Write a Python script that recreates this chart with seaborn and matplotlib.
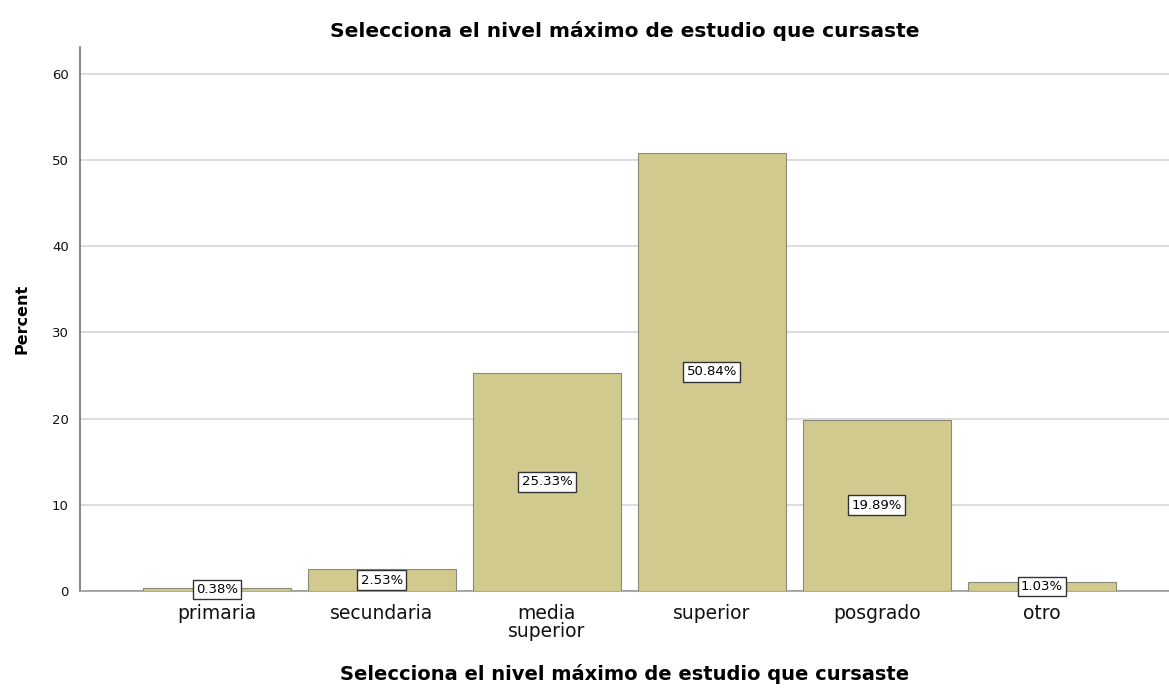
import pandas as pd
import seaborn as sns
import matplotlib.pyplot as plt

# Data
categories = ["primaria", "secundaria", "media\nsuperior", "superior", "posgrado", "otro"]
percents = [0.38, 2.53, 25.33, 50.84, 19.89, 1.03]
title_text = "Selecciona el nivel máximo de estudio que cursaste"

df = pd.DataFrame({"nivel": categories, "percent": percents})

sns.set_theme(style="white")
plt.rcParams["font.family"] = ["DejaVu Sans"]

fig = plt.figure(figsize=(11.69, 6.91), dpi=100)
ax = fig.add_axes([0.0684, 0.1447, 0.9316, 0.7873])

sns.barplot(data=df, x="nivel", y="percent", ax=ax, color="#D0CA8E",
            width=0.9, edgecolor="#8a8a7a", linewidth=0.8, saturation=1, zorder=3)

# value labels in white boxes at half bar height
for i, v in enumerate(percents):
    ax.text(i, v / 2, f"{v:.2f}%", ha="center", va="center", fontsize=9.5,
            color="black", zorder=5,
            bbox=dict(boxstyle="square,pad=0.25", facecolor="white",
                      edgecolor="#333333", linewidth=1.0))

ax.set_xlim(-0.83, 5.77)
ax.set_ylim(0, 63.1)
ax.set_yticks([0, 10, 20, 30, 40, 50, 60])
ax.yaxis.grid(True, color="#d6d6d6", linewidth=1.2, zorder=0)
ax.set_axisbelow(True)

for side in ["top", "right"]:
    ax.spines[side].set_visible(False)
ax.spines["left"].set_color("#777777")
ax.spines["bottom"].set_color("#999999")
ax.spines["bottom"].set_linewidth(1.2)

ax.tick_params(axis="y", labelsize=9.5, length=0, pad=8, colors="#111111")
ax.tick_params(axis="x", labelsize=13.5, length=0, pad=9, colors="#111111")
for lbl in ax.get_xticklabels():
    lbl.set_linespacing(0.95)

ax.set_xlabel(title_text, fontsize=14, fontweight="bold", labelpad=17, color="black")
ax.set_ylabel("Percent", fontsize=11.5, fontweight="bold", labelpad=16, color="black")
ax.set_title(title_text, fontsize=14.5, fontweight="bold", pad=7, color="black")

fig.savefig("out.png", dpi=100)
